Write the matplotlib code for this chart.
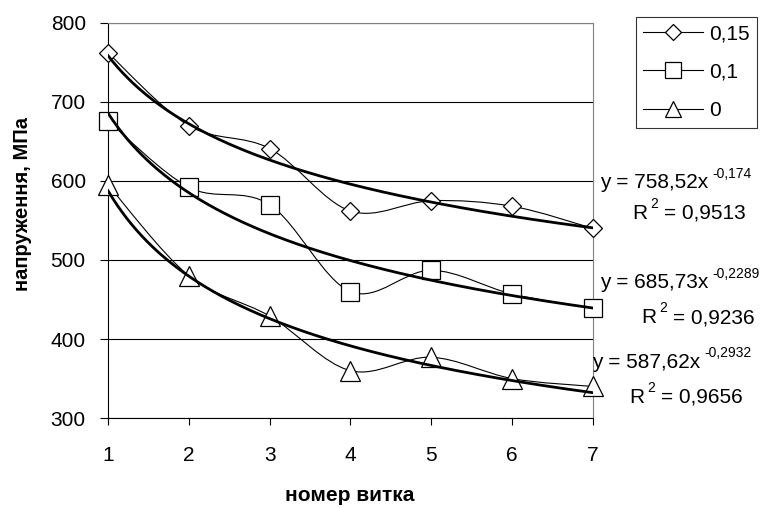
import numpy as np
import matplotlib
matplotlib.use('Agg')
import matplotlib.pyplot as plt
from matplotlib.path import Path
from matplotlib.patches import PathPatch
from matplotlib.lines import Line2D

plt.rcParams['font.family'] = ['Liberation Sans', 'DejaVu Sans']

# data
turns = [1, 2, 3, 4, 5, 6, 7]
labels = ['0,15', '0,1', '0']
stress_015 = [762, 670, 641, 562, 575, 568, 540]
stress_01 = [676, 592, 570, 460, 487, 457, 439]
stress_0 = [595, 480, 429, 360, 377, 350, 340]
fit_a = [758.52, 685.73, 587.62]
fit_b = [-0.174, -0.2289, -0.2932]
fit_r2 = ['0,9513', '0,9236', '0,9656']
eq_a_txt = ['758,52', '685,73', '587,62']
eq_b_txt = ['-0,174', '-0,2289', '-0,2932']

series = [stress_015, stress_01, stress_0]
markers = ['D', 's', '^']
msizes = [9.5, 13, 14]


def smooth_path(x, y):
    # Catmull-Rom style bezier segments (Excel "smoothed line" look)
    x = np.asarray(x, float)
    y = np.asarray(y, float)
    verts = [(x[0], y[0])]
    codes = [Path.MOVETO]
    n = len(x)
    for i in range(n - 1):
        p0 = np.array([x[max(i - 1, 0)], y[max(i - 1, 0)]])
        p1 = np.array([x[i], y[i]])
        p2 = np.array([x[i + 1], y[i + 1]])
        p3 = np.array([x[min(i + 2, n - 1)], y[min(i + 2, n - 1)]])
        c1 = p1 + (p2 - p0) / 6.0
        c2 = p2 - (p3 - p1) / 6.0
        verts += [tuple(c1), tuple(c2), tuple(p2)]
        codes += [Path.CURVE4] * 3
    return Path(verts, codes)


fig = plt.figure(figsize=(7.77, 5.08), dpi=100)
ax = fig.add_axes([0.139, 0.177, 0.624, 0.778])

xx = np.linspace(1, 7, 200)
handles = []
for vals, m, ms, lab, a, b in zip(series, markers, msizes, labels, fit_a, fit_b):
    ax.add_patch(PathPatch(smooth_path(turns, vals), fill=False,
                           edgecolor='black', lw=0.8, zorder=3))
    ax.plot(turns, vals, linestyle='none', marker=m, ms=ms, mfc='white',
            mec='black', mew=0.9, zorder=4, clip_on=False)
    ax.plot(xx, a * xx ** b, color='black', lw=2.0, zorder=5)
    handles.append(Line2D([], [], color='black', lw=0.8, marker=m, ms=ms * 0.85,
                          mfc='white', mec='black', mew=0.9, label=lab))

ax.set_xlim(1, 7)
ax.set_ylim(300, 800)
ax.set_xticks(turns)
ax.set_yticks(range(300, 801, 100))
ax.yaxis.grid(True, color='black', lw=0.8)
ax.set_axisbelow(True)
ax.tick_params(axis='y', length=6, width=0.8, pad=10, labelsize=15)
ax.tick_params(axis='x', length=5, width=0.8, pad=15, labelsize=15)
ax.spines['top'].set_color('#808080')
ax.spines['right'].set_color('#808080')
for s in ax.spines.values():
    s.set_linewidth(0.8)

ax.set_xlabel('номер витка', fontsize=15, fontweight='bold', va='center')
ax.xaxis.set_label_coords(0.499, -0.196)
ax.set_ylabel('напруження, МПа', fontsize=14.5, fontweight='bold', va='center')
ax.yaxis.set_label_coords(-0.177, 0.542)

leg = fig.legend(handles=handles, loc='upper left', bbox_to_anchor=(0.818, 0.967),
                 fontsize=15, frameon=True, fancybox=False, handlelength=2.9,
                 handletextpad=0.3, borderpad=0.35, labelspacing=0.94,
                 borderaxespad=0)
leg.get_frame().set_edgecolor('black')
leg.get_frame().set_linewidth(0.8)

# trendline equations
eq_pos = [(0.772, 0.64), (0.772, 0.443), (0.762, 0.287)]
r2_pos = [(0.814, 0.58), (0.825, 0.375), (0.81, 0.218)]
for (ex, ey), (rx, ry), at, bt, r2 in zip(eq_pos, r2_pos, eq_a_txt, eq_b_txt, fit_r2):
    t = fig.text(ex, ey, f'y = {at}x', fontsize=15, va='center', ha='left')
    ax.annotate(bt, xy=(1.0, 0.62), xycoords=t, xytext=(3, 0),
                textcoords='offset points', fontsize=10, va='bottom', ha='left')
    r = fig.text(rx, ry, 'R', fontsize=15, va='center', ha='left')
    ax.annotate('2', xy=(1.0, 0.62), xycoords=r, xytext=(2, 0),
                textcoords='offset points', fontsize=10, va='bottom', ha='left')
    ax.annotate('= ' + r2, xy=(1.0, 0.5), xycoords=r, xytext=(12, 0),
                textcoords='offset points', fontsize=15, va='center', ha='left')

fig.savefig('out.png', dpi=100)
